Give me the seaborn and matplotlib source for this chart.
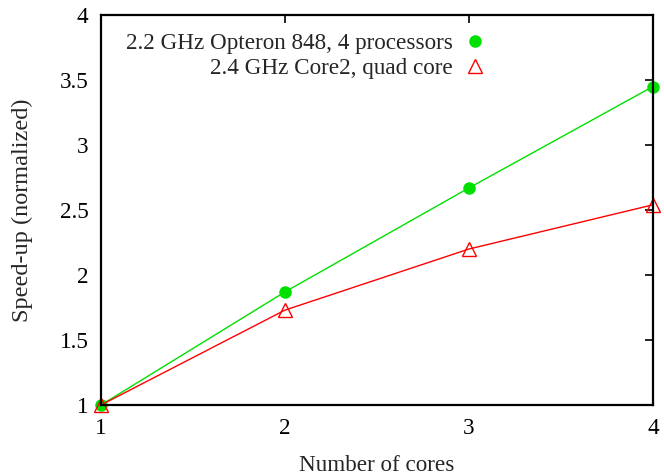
import matplotlib
matplotlib.use("Agg")
import matplotlib.pyplot as plt
import seaborn as sns
import pandas as pd

cores = [1, 2, 3, 4]
opteron = [1.0, 1.87, 2.67, 3.45]
core2 = [1.0, 1.73, 2.20, 2.54]
label_opteron = "2.2 GHz Opteron 848, 4 processors"
label_core2 = "2.4 GHz Core2, quad core"
x_ticks = [1, 2, 3, 4]
y_ticks = [1, 1.5, 2, 2.5, 3, 3.5, 4]
y_tick_labels = ["1", "1.5", "2", "2.5", "3", "3.5", "4"]

sns.set_theme(style="white")
plt.rcParams['font.family'] = ['Liberation Serif', 'DejaVu Serif']

FS = 16.7
fig = plt.figure(figsize=(6.64, 4.76), dpi=100)
ax = fig.add_axes([101/664, 1 - 405/476, (653-101)/664, (405-15)/476])

df1 = pd.DataFrame({"cores": cores, "speedup": opteron})
df2 = pd.DataFrame({"cores": cores, "speedup": core2})

sns.lineplot(data=df1, x="cores", y="speedup", ax=ax, color="#00e000", lw=1.0,
             marker="o", markersize=9, markeredgewidth=0, label=label_opteron, clip_on=False)
sns.lineplot(data=df2, x="cores", y="speedup", ax=ax, color="#ff0000", lw=1.0,
             marker="^", markersize=9.5, markerfacecolor="none", markeredgecolor="#ff0000",
             markeredgewidth=1.0, label=label_core2, clip_on=False)

ax.set_xlim(1, 4)
ax.set_ylim(1, 4)
ax.set_xticks(x_ticks)
ax.set_xticklabels([str(v) for v in x_ticks])
ax.set_yticks(y_ticks)
ax.set_yticklabels(y_tick_labels)
ax.tick_params(direction="in", length=6, width=1.2, top=True, right=True,
               labelsize=FS, colors="black", pad=9)
for s in ax.spines.values():
    s.set_color("black")
    s.set_linewidth(1.6)
ax.set_xlabel("Number of cores", fontsize=FS, labelpad=12)
ax.set_ylabel("Speed-up (normalized)", fontsize=17.5, labelpad=19)
ax.grid(False)

leg = ax.legend(loc="upper right", bbox_to_anchor=(484/664, 1 - 33/476),
                bbox_transform=fig.transFigure, frameon=False, markerfirst=False,
                fontsize=FS, handlelength=0.8, handletextpad=0.55, labelspacing=0.17,
                borderaxespad=0, borderpad=0, markerscale=1.0)
for h in leg.legend_handles:
    h.set_linestyle("None")
for col in leg._legend_handle_box.get_children():
    col.align = "right"

fig.savefig("out.png", dpi=100)
